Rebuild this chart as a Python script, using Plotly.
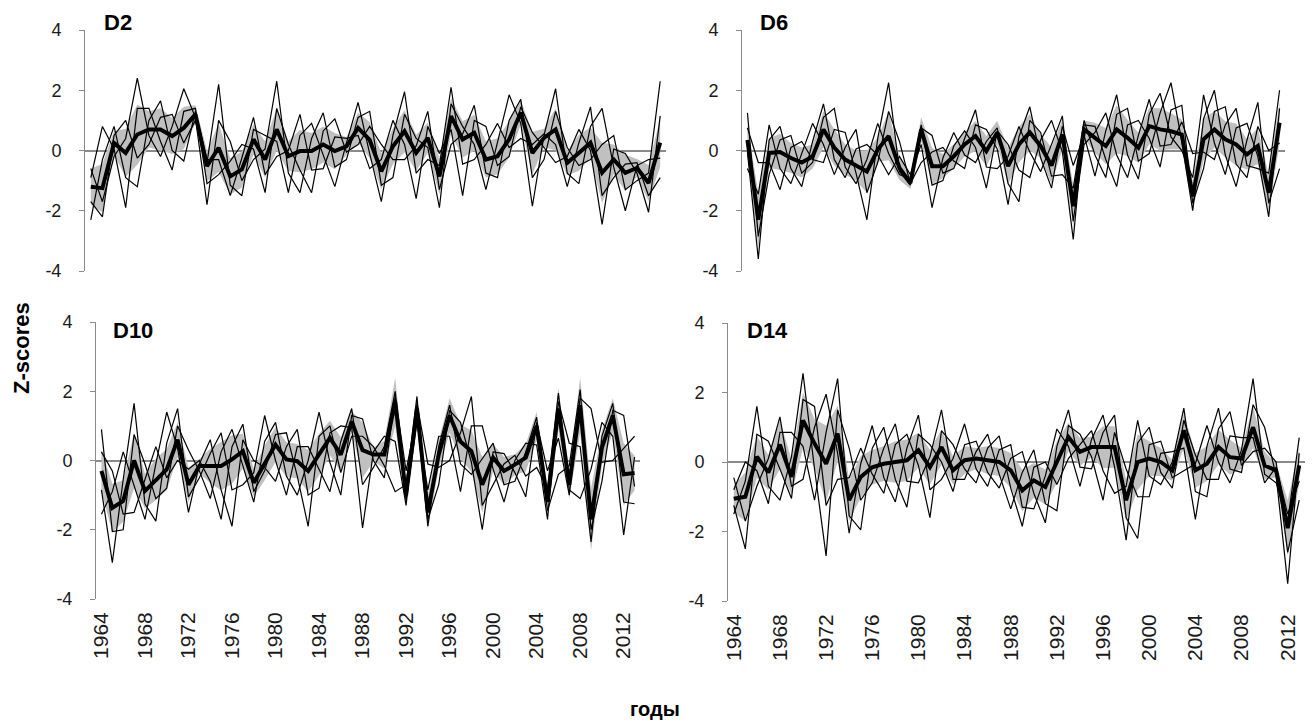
import numpy as np
import plotly.graph_objects as go

# ---------------- data ----------------
years = list(range(1964, 2014))
tick_years = list(range(1964, 2013, 4))
tick_labels = [str(y) for y in tick_years]
y_ticks = [-4, -2, 0, 2, 4]
y_tick_labels = ["-4", "-2", "0", "2", "4"]
x_title = "годы"
y_title = "Z-scores"

# ---- D2 ----
d2_mean = [-1.2, -1.25, 0.25, -0.08, 0.53, 0.7, 0.7, 0.48, 0.75, 1.2,
           -0.52, 0.09, -0.86, -0.63, 0.37, -0.3, 0.7, -0.19, -0.02, -0.02,
           0.2, -0.02, 0.14, 0.75, 0.35, -0.69, 0.14, 0.64, -0.08, 0.42,
           -0.86, 1.14, 0.37, 0.59, -0.3, -0.19, 0.37, 1.26, -0.08, 0.42,
           0.7, -0.41, -0.08, 0.26, -0.74, -0.3, -0.74, -0.58, -1.08, 0.26]
d2_sd = [0.6, 0.8, 0.4, 0.8, 1.0, 0.6, 0.7, 0.6, 0.7, 0.3,
         0.5, 0.8, 0.6, 0.6, 0.5, 0.6, 0.7, 0.5, 0.7, 0.6,
         0.6, 0.6, 0.3, 0.5, 0.6, 0.6, 0.6, 0.7, 0.6, 0.5,
         0.6, 0.6, 0.6, 0.6, 0.6, 0.6, 0.6, 0.4, 0.7, 0.3,
         0.7, 0.4, 0.6, 0.5, 1.0, 0.5, 0.6, 0.3, 0.6, 0.8]
d2_s1 = [-0.6, -1.7, -0.2, 0.4, 2.4, 0.5, -0.2, 0.8, 2.05, 1.1,
         -1.8, 1.0, 0.3, -1.0, -0.3, 0.05, 2.3, -0.75, -1.4, 0.4,
         1.25, -0.55, -0.3, 1.1, 1.3, -1.15, -0.9, 1.2, 0.4, 0.1,
         -1.9, 1.55, 0.8, 0.2, -1.3, 0.3, 1.85, 0.9, -1.85, 0.5,
         2.05, -0.75, -1.1, 0.8, 1.4, -0.55, -2.0, -0.5, -0.3, -0.25]
d2_s2 = [-2.3, -0.3, 0.8, -0.9, -1.2, 1.0, 1.65, 0.0, -0.35, 1.3,
         -0.3, -0.3, -1.5, -0.25, 1.1, -0.8, -0.2, 0.0, 1.2, -0.65,
         -0.6, 0.45, 0.4, 0.5, -0.6, -0.3, 1.0, 0.2, -1.6, 0.8,
         -0.1, 0.7, -1.5, 1.0, 0.8, -0.5, -0.2, 1.45, 0.6, 0.1,
         -0.4, -0.2, 0.7, 0.0, -2.45, 0.05, -0.1, -0.75, -2.05, 1.15]
d2_s3 = [-0.9, 0.8, 0.05, -1.9, 1.4, 1.4, 0.3, -0.65, 1.3, 1.4,
         -1.1, -0.8, -0.35, 0.2, 0.05, -1.4, 1.4, 0.2, -0.65, -1.4,
         0.65, 1.05, -0.05, 0.2, 0.8, 0.2, -0.3, -0.3, 0.15, 1.3,
         -1.3, 0.2, 0.55, 1.5, -0.75, -0.9, 1.0, 1.7, -0.9, -0.3,
         1.3, 0.1, -0.5, -0.3, 0.2, 0.5, -1.3, -1.0, -0.75, 2.3]
d2_s4 = [-1.7, -2.2, 0.5, 1.0, -0.25, 0.2, 1.1, 1.2, 0.25, 1.0,
         -0.4, 2.2, -1.15, -1.5, 0.7, 0.5, 0.3, -1.4, 0.5, 0.9,
         -0.15, -1.2, 0.25, 1.6, -0.1, -1.7, 0.5, 1.95, -0.75, -0.3,
         -0.5, 2.1, -0.45, -0.3, 0.2, 0.9, 0.1, 0.4, 0.2, 0.55,
         0.2, -1.2, 0.25, 1.45, -1.5, -0.9, -0.45, -0.4, -1.5, -0.9]

# ---- D6 ----
d6_mean = [0.35, -2.3, -0.08, -0.05, -0.25, -0.4, -0.2, 0.7, 0.1, -0.3,
           -0.5, -0.7, 0.03, 0.48, -0.58, -1.08, 0.7, -0.52, -0.52, -0.19,
           0.2, 0.48, -0.02, 0.59, -0.52, 0.2, 0.6, 0.15, -0.5, 0.53,
           -1.85, 0.7, 0.42, 0.15, 0.7, 0.42, 0.09, 0.81, 0.7, 0.64,
           0.53, -1.52, 0.37, 0.7, 0.37, 0.2, -0.13, 0.15, -1.4, 0.92]
d6_sd = [0.5, 0.9, 0.5, 0.6, 0.5, 0.5, 0.4, 0.6, 0.6, 0.5,
         0.5, 0.7, 0.4, 0.8, 0.4, 0.2, 0.4, 0.6, 0.4, 0.4,
         0.4, 0.5, 0.5, 0.4, 0.6, 0.6, 0.6, 0.4, 0.6, 0.5,
         0.7, 0.3, 0.5, 0.6, 0.8, 0.6, 0.5, 0.6, 0.7, 0.6,
         0.5, 0.5, 0.7, 0.6, 0.6, 0.7, 0.5, 0.6, 0.6, 0.7]
d6_s1 = [1.25, -2.85, -0.8, 0.35, 0.5, -0.75, -0.4, 1.1, 1.4, -0.55,
         -1.1, -0.3, 0.9, -0.1, -0.8, -0.95, 0.85, -1.15, -1.0, 0.15,
         0.65, 0.1, -1.25, 0.65, 0.2, -0.65, -0.9, 0.35, 1.0, -0.05,
         -2.95, 0.85, 0.8, -0.3, -1.2, 0.85, 1.0, 0.4, -0.55, 1.35,
         1.5, -1.75, -0.6, 1.3, 1.45, -0.45, -0.9, 0.8, 0.0, 0.25]
d6_s2 = [-0.6, -1.45, 0.85, -0.6, -1.1, -0.1, 0.9, 0.2, -0.8, 0.1,
         0.7, -1.4, -0.4, 1.3, 0.3, -1.1, -0.4, -0.05, 0.1, -0.35,
         -0.6, 0.85, 0.7, 0.05, -1.8, 0.45, 1.45, -0.25, -1.25, 0.8,
         -0.5, 0.5, -0.85, 0.65, 1.85, -0.15, -0.95, 1.2, 1.9, 0.45,
         0.0, -0.9, 1.85, 0.25, -0.8, 0.75, 0.9, -0.2, -2.2, 1.4]
d6_s3 = [0.75, -0.4, -0.4, -1.3, 0.1, 0.3, -0.3, -0.4, 0.7, 0.6,
         -0.75, -2.3, 0.4, 2.25, -0.7, -1.15, 0.75, 0.5, -0.75, -0.6,
         0.4, 1.35, -0.55, -0.6, -0.2, 0.8, -0.05, -0.7, 0.2, 1.15,
         -2.35, 0.2, 0.6, 1.25, -0.15, -0.9, 0.5, 1.7, 0.15, 0.2,
         0.95, -0.1, -0.05, -0.3, 0.85, 1.4, -0.5, -0.6, -0.75, 2.0]
d6_s4 = [-0.05, -3.6, 0.35, 0.8, -0.6, -1.2, 0.3, 1.55, -0.3, -0.9,
         0.05, 0.2, -0.15, -0.8, -0.2, -0.8, 0.2, -1.9, -0.25, 0.6,
         -0.15, -0.4, 0.3, 0.75, -1.1, -1.7, 1.0, 0.6, -0.85, -0.8,
         -1.25, 1.0, -0.15, -0.9, 1.2, 1.4, -0.35, -0.1, 1.25, 2.25,
         0.3, -2.0, 1.05, 2.0, -0.15, -1.2, 0.35, 1.6, -1.75, -0.6]

# ---- D10 ----
d10_mean = [-0.3, -1.37, -1.17, 0.0, -0.88, -0.55, -0.26, 0.6, -0.7, -0.16,
            -0.16, -0.16, 0.03, 0.27, -0.64, -0.07, 0.46, 0.03, -0.02, -0.3,
            0.17, 0.65, 0.17, 1.13, 0.3, 0.17, 0.17, 1.7, -1.0, 1.5,
            -1.5, 0.17, 1.3, 0.55, 0.27, -0.7, 0.08, -0.3, -0.12, 0.08,
            1.0, -1.2, 1.5, -0.7, 1.6, -1.7, 0.37, 1.3, -0.4, -0.36]
d10_sd = [0.6, 0.7, 0.6, 0.8, 0.5, 0.6, 0.6, 0.5, 0.5, 0.2,
          0.5, 0.7, 0.7, 0.5, 0.4, 0.5, 0.5, 0.5, 0.5, 0.6,
          0.6, 0.5, 0.5, 0.3, 0.8, 0.2, 0.4, 0.7, 0.3, 0.3,
          0.5, 0.4, 0.5, 0.5, 0.6, 0.8, 0.4, 0.4, 0.3, 0.4,
          0.4, 0.4, 0.6, 0.4, 0.8, 0.9, 0.5, 0.5, 0.9, 0.5]
d10_s1 = [0.9, -2.05, -2.0, 0.75, -0.1, -1.1, -0.8, 1.0, 0.3, -0.3,
          -1.1, 0.25, 0.9, -0.15, -1.2, 0.55, 1.1, -0.45, -1.0, 0.0,
          1.4, -0.05, -1.0, 1.3, 1.2, 0.0, -0.5, 1.85, -0.3, 1.3,
          -1.9, 0.4, 1.6, -0.1, -0.4, 0.05, 0.5, -0.7, -0.6, 0.25,
          1.25, -1.45, -0.4, -0.15, 2.05, -2.0, -0.6, 1.45, 1.3, -0.75]
d10_s2 = [-1.55, -0.9, 0.25, -0.7, -1.7, -0.1, 1.4, 0.35, -1.5, -0.1,
          0.6, -0.85, -1.9, 0.6, 0.0, -0.2, -0.6, 0.4, 0.9, -1.0,
          -0.8, 0.8, 1.0, 0.95, -1.95, 0.25, 0.7, 0.55, -1.3, 1.65,
          -0.1, -0.2, 0.0, 0.8, 1.85, -1.3, -0.7, -0.1, 0.15, -0.45,
          -0.2, -0.8, 1.95, -0.85, -1.1, -0.25, 1.1, 0.7, -2.15, 0.1]
d10_s3 = [0.25, -0.3, -1.55, -1.5, -0.55, 0.4, -0.5, 0.0, -0.25, 0.0,
          -0.6, -1.7, 0.4, 1.05, -0.9, -0.3, 0.75, 0.8, -0.45, -1.9,
          0.7, 1.0, -0.35, 0.7, 0.7, 0.4, -0.15, -0.9, -0.7, 1.85,
          -1.7, -0.7, 1.45, 1.1, -0.05, -2.0, 0.25, 0.2, -0.35, -1.05,
          1.1, -0.3, 0.65, -1.0, 1.8, 1.5, -0.05, 0.0, 0.35, 0.7]
d10_s4 = [-0.85, -2.95, -0.55, 1.65, -1.25, -1.75, 0.5, 1.5, -1.05, -0.5,
          0.2, 0.8, -0.85, -0.7, -0.35, 1.3, 0.0, -1.0, 0.4, 0.4,
          -0.25, -0.9, 0.55, 1.5, -0.7, -0.2, 0.4, 2.0, -1.15, 1.1,
          -0.85, 0.7, 0.7, -0.9, 1.0, 1.0, -0.25, -1.2, 0.0, 0.5,
          0.45, -1.7, 1.7, 0.5, 0.4, -2.35, 0.7, 1.65, -1.2, -1.25]

# ---- D14 ----
d14_mean = [-1.06, -1.0, 0.15, -0.3, 0.5, -0.43, 1.2, 0.53, -0.05, 0.82,
            -1.1, -0.43, -0.15, -0.05, 0.0, 0.05, 0.34, -0.15, 0.43, -0.24,
            0.05, 0.1, 0.05, 0.0, -0.24, -0.82, -0.53, -0.72, 0.0, 0.72,
            0.29, 0.43, 0.43, 0.43, -1.1, 0.0, 0.1, 0.0, -0.24, 0.91,
            -0.24, -0.05, 0.43, 0.14, 0.1, 1.0, -0.1, -0.24, -1.9, -0.1]
d14_sd = [0.4, 0.7, 0.6, 0.5, 0.7, 0.5, 0.8, 0.7, 1.1, 0.8,
          0.6, 0.6, 0.5, 0.5, 0.6, 0.6, 0.5, 0.5, 0.5, 0.4,
          0.4, 0.3, 0.4, 0.4, 0.5, 0.6, 0.5, 0.5, 0.6, 0.4,
          0.4, 0.3, 0.6, 0.6, 0.6, 0.8, 0.5, 0.4, 0.3, 0.5,
          0.5, 0.5, 0.5, 0.5, 0.3, 0.6, 0.4, 0.2, 0.8, 0.5]
d14_s1 = [-0.45, -1.7, -0.7, 0.1, 1.3, -0.7, -0.5, 1.0, 1.95, 0.25,
          -2.05, -0.05, 1.05, -0.45, -1.15, 0.4, 1.35, -0.8, -0.5, 0.1,
          1.1, -0.2, -0.7, 0.35, 0.5, -1.3, -1.35, -0.4, 0.95, 0.45,
          -0.7, 0.65, 1.35, -0.15, -2.25, 0.55, 1.0, -0.3, -0.75, 1.2,
          0.2, -0.5, -0.5, 0.75, 0.7, 0.7, -0.6, -0.15, -1.5, -0.55]
d14_s2 = [-1.5, -0.55, 1.6, -0.7, -1.1, 0.15, 2.55, -0.2, -2.7, 1.5,
          0.4, -1.1, -0.6, 0.4, 1.1, -0.55, -0.6, 0.15, 1.5, -0.5,
          -0.5, 0.3, 0.8, -0.35, -1.35, -0.3, 0.35, -1.2, -1.4, 1.05,
          0.8, 0.15, -1.1, 0.85, -0.2, -1.0, -1.0, 0.25, 0.3, 0.4,
          -1.65, 0.45, 1.55, -0.2, -0.3, 1.65, 1.0, -0.4, -3.5, 0.25]
d14_s3 = [-0.8, 0.0, -0.25, -1.2, 0.85, 0.85, 0.45, -1.1, 0.85, 2.4,
          -1.55, -1.95, 0.4, 1.0, -0.5, -1.3, 0.8, 0.5, 0.0, -0.85,
          0.5, 0.6, -0.3, -0.75, 0.1, 0.3, -0.9, -1.75, 0.45, 1.5,
          -0.15, -0.2, 0.85, 1.35, -1.6, -2.2, 0.5, 0.6, -0.45, -0.25,
          -0.05, 1.05, 0.0, -0.6, 0.35, 2.4, -0.35, -0.6, -1.7, 0.7]
d14_s4 = [-1.25, -2.5, 0.8, 0.6, -0.2, -1.05, 1.8, 1.6, -1.25, -0.5,
          -0.45, 0.4, -0.35, -0.9, 0.5, 0.8, -0.1, -1.6, 0.9, 0.5,
          -0.2, -0.6, 0.4, 0.75, -0.75, -1.85, -0.15, 0.0, -0.65, 0.1,
          0.5, 0.9, -0.25, -0.9, -0.7, 1.2, -0.4, -0.65, 0.0, 1.55,
          -0.85, -1.0, 0.95, 1.45, -0.1, 0.3, 0.4, 0.0, -2.6, -1.1]

panel_names = ["D2", "D6", "D10", "D14"]
panel_means = [d2_mean, d6_mean, d10_mean, d14_mean]
panel_sds = [d2_sd, d6_sd, d10_sd, d14_sd]
panel_series = [
    [d2_s1, d2_s2, d2_s3, d2_s4],
    [d6_s1, d6_s2, d6_s3, d6_s4],
    [d10_s1, d10_s2, d10_s3, d10_s4],
    [d14_s1, d14_s2, d14_s3, d14_s4],
]

# ---------------- layout (pixels) ----------------
W, H = 1316, 722
geom = [
    dict(x0=85, x1=666, ytop=30, ybot=271, labels=False, lx=102, ly=22),
    dict(x0=742, x1=1285, ytop=30, ybot=271, labels=False, lx=758, ly=22),
    dict(x0=96, x1=640, ytop=322, ybot=599, labels=True, lx=111, ly=330),
    dict(x0=728, x1=1305, ytop=323, ybot=601, labels=True, lx=745, ly=330),
]

AXIS_GREY = "#8a8a8a"
TEXT = "#1a1a1a"
BAND = "rgb(192,192,192)"
FONT = "Liberation Sans, Arial, sans-serif"

fig = go.Figure()
annotations = []
layout_axes = {}

for k in range(4):
    g = geom[k]
    sfx = "" if k == 0 else str(k + 1)
    xa, ya = "x" + sfx, "y" + sfx
    mean = np.array(panel_means[k])
    sd = np.array(panel_sds[k])
    upper = mean + sd
    lower = mean - sd

    fig.add_trace(go.Scatter(x=years, y=upper, mode="lines", line=dict(width=0, color=BAND),
                             xaxis=xa, yaxis=ya, hoverinfo="skip", showlegend=False))
    fig.add_trace(go.Scatter(x=years, y=lower, mode="lines", line=dict(width=0, color=BAND),
                             fill="tonexty", fillcolor=BAND,
                             xaxis=xa, yaxis=ya, hoverinfo="skip", showlegend=False))
    for s in panel_series[k]:
        fig.add_trace(go.Scatter(x=years, y=s, mode="lines", line=dict(width=1.2, color="black"),
                                 xaxis=xa, yaxis=ya, showlegend=False))
    fig.add_trace(go.Scatter(x=years, y=panel_means[k], mode="lines",
                             line=dict(width=4, color="black"),
                             xaxis=xa, yaxis=ya, showlegend=False))

    layout_axes["xaxis" + sfx] = dict(
        domain=[g["x0"] / W, g["x1"] / W], range=[1963.5, 2013.5], anchor=ya,
        automargin=False,
        showgrid=False, zeroline=False, showline=False, ticks="",
        tickvals=tick_years, ticktext=tick_labels, tickangle=-90,
        showticklabels=g["labels"], tickfont=dict(size=21, color=TEXT, family=FONT),
        ticklabelstandoff=8, fixedrange=True)
    layout_axes["yaxis" + sfx] = dict(
        domain=[1 - g["ybot"] / H, 1 - g["ytop"] / H], range=[-4, 4], anchor=xa,
        automargin=False,
        showgrid=False, zeroline=True, zerolinecolor=AXIS_GREY, zerolinewidth=1.5,
        showline=True, linecolor=AXIS_GREY, linewidth=1,
        ticks="outside", ticklen=5, tickcolor=AXIS_GREY, tickwidth=1,
        tickvals=y_ticks, ticktext=y_tick_labels,
        tickfont=dict(size=18, color=TEXT, family=FONT), ticklabelstandoff=14,
        fixedrange=True)

    annotations.append(dict(text="<b>%s</b>" % panel_names[k], x=g["lx"] / W, y=1 - g["ly"] / H,
                            xref="paper", yref="paper", xanchor="left", yanchor="middle",
                            showarrow=False, font=dict(size=22, color="black", family=FONT)))

annotations.append(dict(text="<b>%s</b>" % y_title, x=21 / W, y=1 - 348 / H, xref="paper", yref="paper",
                        xanchor="center", yanchor="middle", textangle=-90, showarrow=False,
                        font=dict(size=22, color="black", family=FONT)))
annotations.append(dict(text="<b>%s</b>" % x_title, x=655 / W, y=1 - 709 / H, xref="paper", yref="paper",
                        xanchor="center", yanchor="middle", showarrow=False,
                        font=dict(size=20, color="black", family=FONT)))

fig.update_layout(width=W, height=H, margin=dict(l=0, r=0, t=0, b=0, autoexpand=False),
                  paper_bgcolor="white", plot_bgcolor="white", showlegend=False,
                  font=dict(family=FONT, color=TEXT), annotations=annotations, **layout_axes)

fig.write_html("out.html", config={"displayModeBar": False},
               post_script="document.body.style.margin='0px';document.body.style.overflow='hidden';")
